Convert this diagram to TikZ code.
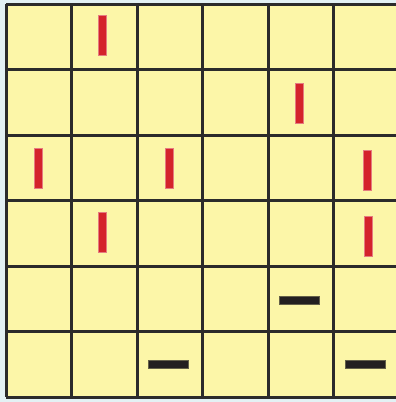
\documentclass[tikz,border=0pt]{standalone}
\definecolor{bgblue}{HTML}{E3F1F4}
\definecolor{cellyellow}{HTML}{FCF6A8}
\definecolor{gridline}{HTML}{2B2B2B}
\definecolor{barred}{HTML}{D4232B}
\definecolor{barblack}{HTML}{231F20}
\tikzset{
  gridlines/.style={draw=gridline, line width=3pt},
  redbar/.style={fill=barred, draw=barred!60!white, line width=0.5pt},
  blackbar/.style={fill=barblack, draw=barblack!70!cellyellow, line width=0.5pt},
}
\begin{document}
\begin{tikzpicture}[x=1pt,y=-1pt]
\useasboundingbox (0,0) rectangle (396,402);
\fill[bgblue] (0,0) rectangle (396,402);
\fill[cellyellow] (6,4) rectangle (400,397);
% grid
\foreach \i in {0,...,6} {
  \draw[gridlines] ({6+65.5*\i},4) -- ({6+65.5*\i},397);
  \draw[gridlines] (6,{4+65.5*\i}) -- (400,{4+65.5*\i});
}
% red vertical bars (centre x, centre y)
\foreach \cx/\cy in {102/35, 299/103, 38/168, 169/168, 367/170, 102/232, 368/236} {
  \filldraw[redbar] ({\cx-4},{\cy-20}) rectangle ({\cx+4},{\cy+20});
}
% black horizontal bars
\foreach \cx/\cy in {299/300, 168/364, 365/364} {
  \filldraw[blackbar] ({\cx-20},{\cy-4}) rectangle ({\cx+20},{\cy+4});
}
\end{tikzpicture}
\end{document}
